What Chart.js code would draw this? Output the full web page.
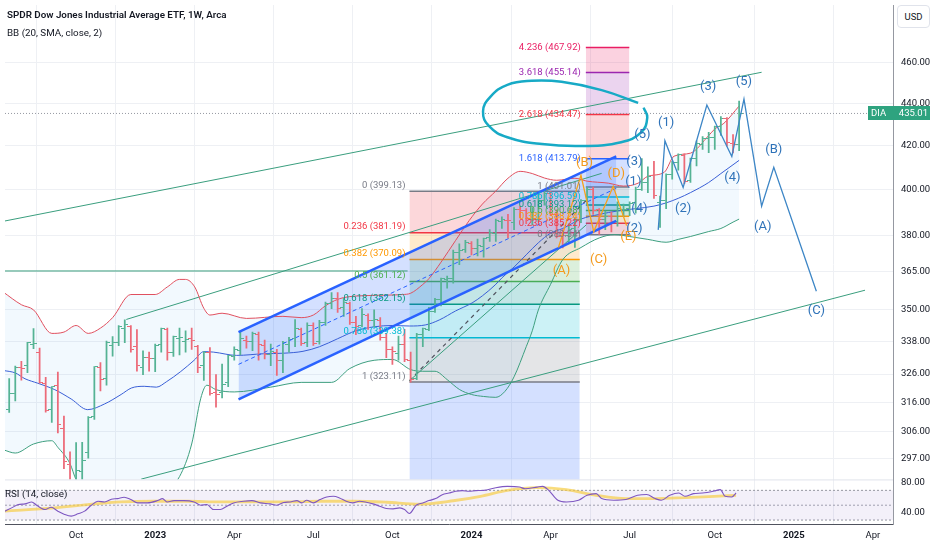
<!DOCTYPE html>
<html>
<head>
<meta charset="utf-8">
<script src="https://cdn.jsdelivr.net/npm/chart.js@4.4.1/dist/chart.umd.min.js"></script>
<style>
  body { margin: 0; background: #fff; }
  #wrap { position: relative; width: 932px; height: 550px; font-family: Roboto, 'Liberation Sans', sans-serif; color: #131722; }
  canvas { position: absolute; left: 0; top: 0; }
  .t { position: absolute; font-size: 9.8px; white-space: nowrap; }
  #usd { position: absolute; left: 897px; top: 5px; width: 31px; height: 21px; border: 1px solid #e0e3eb; border-radius: 4px;
         font-size: 9.5px; line-height: 21px; text-align: center; background: #fff; }
</style>
</head>
<body>
<div id="wrap">
  <canvas id="chart" width="932" height="550"></canvas>
  <div class="t" style="left:7px;top:9px;font-weight:600">SPDR Dow Jones Industrial Average ETF, 1W, Arca</div>
  <div class="t" style="left:7px;top:27px">BB (20, SMA, close, 2)</div>
  <div class="t" style="left:5px;top:488px">RSI (14, close)</div>
  <div id="usd">USD</div>
</div>
<script>
// weekly bars, week 0 = first week of Oct 2022
const firstWeek = -11;
const opens = [313.5, 319.0, 328.2, 329.0, 337.0, 334.0, 322.5, 313.5, 322.0, 307.0,
  295.0, 288.0, 292.5, 299.0, 311.0, 328.5, 324.5, 336.5, 337.5, 343.0,
  343.5, 336.0, 328.5, 332.0, 331.5, 337.0, 342.5, 334.0, 339.0, 338.0,
  339.0, 336.0, 329.0, 334.0, 319.5, 319.5, 323.0, 332.5, 334.5, 338.5,
  338.0, 340.5, 336.5, 333.0, 334.0, 331.0, 337.0, 339.0, 342.5, 337.5,
  344.0, 338.0, 345.0, 352.5, 354.5, 351.0, 352.5, 345.0, 344.0, 348.0,
  346.0, 346.0, 339.5, 335.0, 333.5, 337.0, 331.0, 324.5, 340.5, 342.5,
  349.5, 354.0, 362.0, 362.5, 373.0, 374.0, 376.5, 374.5, 375.5, 379.0,
  381.0, 386.0, 386.5, 385.5, 391.0, 390.5, 387.0, 387.0, 395.0, 398.0,
  389.0, 380.0, 380.0, 383.0, 387.0, 395.0, 400.0, 391.0, 387.0, 388.0,
  386.0, 391.0, 391.5, 394.0, 400.0, 403.0, 406.0, 394.0, 395.0, 406.5,
  412.0, 415.0, 404.0, 414.0, 420.5, 423.0, 423.5, 429.0, 432.5, 421.0,
  420.5];
const highs = [324.4, 328.9, 330.6, 337.6, 342.8, 335.5, 324.8, 321.5, 326.7, 311.2,
  299.1, 302.2, 302.3, 311.0, 328.7, 330.2, 338.1, 339.8, 344.0, 346.2,
  344.0, 342.4, 334.5, 334.0, 337.0, 343.0, 343.0, 340.0, 343.0, 342.0,
  343.0, 336.5, 334.2, 335.7, 325.8, 329.6, 332.8, 336.0, 341.5, 340.0,
  341.5, 341.5, 338.5, 337.0, 335.0, 338.0, 339.5, 346.3, 343.0, 345.0,
  345.0, 346.0, 353.0, 356.8, 356.8, 354.5, 353.0, 347.5, 350.5, 348.5,
  350.0, 347.0, 341.0, 336.0, 340.0, 342.5, 334.0, 341.0, 343.0, 351.0,
  354.5, 362.5, 363.3, 374.0, 376.5, 378.0, 377.5, 378.5, 379.0, 382.5,
  387.0, 388.0, 389.0, 392.0, 392.5, 391.5, 392.0, 398.5, 399.1, 399.0,
  391.0, 382.5, 385.0, 387.5, 395.5, 401.0, 401.0, 391.5, 390.5, 390.0,
  394.5, 393.5, 394.5, 401.0, 413.8, 410.0, 412.5, 397.0, 406.9, 412.5,
  416.0, 416.0, 414.0, 422.0, 424.0, 426.0, 429.0, 433.5, 433.0, 425.0,
  441.0];
const lows = [312.4, 316.4, 323.8, 326.5, 335.3, 322.7, 312.5, 309.0, 305.4, 293.6,
  287.1, 287.2, 286.6, 297.0, 310.0, 320.0, 322.0, 332.5, 336.4, 337.5,
  334.0, 327.0, 325.8, 327.0, 326.9, 334.0, 331.0, 332.4, 333.0, 334.0,
  335.0, 326.5, 323.7, 318.5, 314.3, 317.5, 321.5, 331.0, 333.0, 335.5,
  334.5, 331.0, 331.5, 329.0, 325.5, 326.5, 334.0, 336.0, 336.5, 336.0,
  336.5, 337.0, 344.0, 350.5, 349.0, 347.5, 344.4, 340.5, 343.5, 342.5,
  343.5, 338.5, 332.0, 329.5, 331.0, 330.5, 323.1, 324.0, 336.0, 342.0,
  349.0, 351.5, 358.5, 360.5, 368.0, 373.0, 372.0, 371.5, 371.0, 377.5,
  377.5, 383.0, 379.0, 382.5, 387.5, 385.0, 384.5, 386.0, 393.0, 388.5,
  379.0, 374.8, 377.0, 375.0, 385.5, 393.0, 389.0, 380.5, 382.5, 381.5,
  384.0, 388.0, 388.5, 389.5, 399.5, 398.5, 396.0, 383.5, 391.5, 404.5,
  408.5, 402.5, 403.0, 410.5, 418.0, 416.5, 418.0, 424.5, 419.5, 416.4,
  417.5];
const closes = [318.9, 328.5, 328.0, 337.6, 337.1, 322.8, 313.2, 321.5, 308.2, 295.9,
  287.3, 293.0, 296.3, 310.8, 328.6, 324.0, 337.5, 337.5, 343.5, 344.3,
  334.8, 329.2, 332.0, 331.5, 336.3, 343.0, 333.8, 339.8, 339.3, 338.7,
  338.3, 328.2, 333.9, 319.1, 318.6, 322.4, 332.7, 334.9, 338.9, 338.1,
  341.0, 336.7, 333.0, 334.3, 330.9, 337.6, 338.8, 343.0, 337.3, 344.1,
  337.3, 345.1, 352.3, 354.6, 350.7, 352.8, 345.0, 343.5, 348.4, 345.8,
  346.2, 339.6, 335.1, 334.1, 336.7, 331.3, 324.2, 340.6, 342.8, 349.5,
  353.9, 362.5, 362.5, 373.1, 373.9, 376.9, 374.7, 375.9, 378.6, 381.1,
  386.5, 386.7, 386.3, 391.3, 390.9, 387.2, 387.1, 394.8, 398.1, 389.0,
  379.8, 379.9, 382.4, 386.8, 395.1, 400.0, 390.7, 386.9, 388.0, 385.9,
  391.5, 391.2, 393.8, 400.0, 402.9, 405.9, 397.4, 395.0, 406.6, 411.8,
  415.6, 403.5, 413.9, 420.6, 423.1, 423.5, 428.6, 432.8, 421.1, 420.5,
  435.01];
const lastPrice = 435.01;

const weekTicks = [0, 13, 26, 39, 52, 65, 78, 91, 105, 118, 131];
const weekLabels = ['Oct', '2023', 'Apr', 'Jul', 'Oct', '2024', 'Apr', 'Jul', 'Oct', '2025', 'Apr'];
const priceTicks = [297, 306, 316, 326, 338, 350, 365, 380, 400, 420, 440, 460];
const rsiTicks = [40, 80];
const rsiLevels = [70, 50, 30];

// Bollinger bands [week, price]
const bbUpper = [[-12,357],[-9,352],[-7,350],[-4,341],[-2,341.5],[0,344],[2,341],[4,343],[6,347],[9,356],[13,356],
  [15,359],[17,362],[18,362],[19.5,359],[21,350.6],[22,348],[24,348.7],[28,346.7],[34,347.5],[37,347],[39,348],
  [41,351.6],[42.5,353.6],[44,354.8],[48,355.6],[53.7,356],[55,356.5],[57,360],[58,362.3],[60,369],[62.4,378],
  [64.6,386.3],[66.8,393.5],[69,399.2],[71,404.9],[73,408],[75,407],[77,405],[79,404],[82,404.9],[84,403.6],
  [87.5,402.7],[90,401.4],[92.4,402.7],[94,405.8],[96.7,407.6],[98.3,414.9],[101,416.3],[104,424.5],[105,427.6],
  [106.5,430.3],[109,438.6]];
const bbMiddle = [[-12,327.3],[-10,326.4],[-8.4,324.3],[-6.3,322.7],[-3.5,320.4],[-0.8,317.1],[1.9,313.4],[4.7,315.4],
  [7.4,318.7],[9.1,321],[11.2,321.6],[13.2,321.3],[14.9,323.3],[17.2,326.9],[19.4,331],[21,334.2],[22.6,334],
  [26.4,332.8],[30.8,333.4],[34.1,333.6],[37.3,334.3],[40,336],[43,339],[46,342],[49,343.5],[52,344],[54.8,343.8],
  [57.4,344.2],[59.7,346.1],[62.4,349.6],[65.1,352.7],[66.8,355.5],[68.9,359.8],[70,362.6],[72,367],[74,372],
  [76,377],[78,381],[80,383],[83,387],[86,389],[89,390.5],[92,391.5],[95,392.6],[97,394],[99,396],[101,398.5],
  [104,403],[106,407],[109,413]];
const bbLower = [[-12,299.8],[-10,298.7],[-7,301.7],[-4,302.8],[-3,300.6],[-1,295.2],[0,290],[3,283],[6,279],[9,279],
  [12,282],[15,287],[17,291],[19,301.7],[20.5,317.4],[21.5,322],[23,320.4],[26,319.6],[32,321.3],[37,323],[42,323],
  [45,328],[49,331],[52,331.3],[55,327.6],[57,327],[59,327],[61,324],[63,320.5],[65,318.7],[67,318],[69,317.7],
  [70.5,319.8],[72,325],[74,336],[75,342],[76,350],[78,360],[80,370],[83,375],[86,379],[88.5,380.4],[91,379.6],
  [94,378.4],[97,377.2],[99,378.4],[101,379.6],[104,381.7],[106,383],[108,385.7],[109,387]];

// RSI [week, value]
const rsiValues = [[-11.7,42],[-10.6,46.4],[-9.5,50.9],[-8.4,51.8],[-7.3,54.4],[-6.5,50],[-5.1,44.2],[-4.1,47.3],
  [-3,42],[-1.9,37.6],[-0.8,35.3],[0.3,38.4],[1.4,42],[2.5,50],[3.6,55.3],[4.7,54.4],[5.8,58],[6.8,58.9],[7.9,60.7],
  [9,57.6],[10.1,53.1],[11.7,53.1],[13.4,56.2],[14.2,58.9],[15,54.4],[16.1,56.2],[17.7,56.2],[19.4,54.4],[20.5,50],
  [21.5,50.9],[22.6,44.2],[23.7,44.2],[24.8,48.7],[25.9,53.1],[27.5,55.3],[28.9,56.2],[30.3,53.1],[31.9,51.8],
  [33,50],[34.1,53.6],[35.2,54.4],[36.3,56.2],[37.1,53.1],[37.9,56.7],[39,53.1],[40.1,57.6],[41.2,61.1],[42.3,62],
  [43.3,59.8],[44.4,55.3],[45.5,53.1],[46.6,55.3],[47.7,54],[48.8,51.8],[49.9,48.7],[51,45.6],[52.1,45.1],
  [53.2,46.4],[54,44.2],[54.8,38.9],[55.9,50],[57,53.1],[58,56.2],[59.1,58.9],[60.2,64.2],[61.3,66.4],[62.4,68.7],
  [63.5,69.6],[64.6,68.7],[65.7,69.6],[67,70],[69,73.6],[70.9,75.3],[72.9,74.4],[73.8,72.2],[75.8,74.4],[76.7,75.3],
  [77.7,70],[79.2,56.7],[80.6,54.4],[82.6,56.7],[84,63.3],[85.5,65.6],[86.4,58.9],[88.4,56.7],[90.4,57.6],
  [92.3,63.3],[93.8,64.4],[95.2,58.9],[96.2,56.7],[97.6,63.3],[99.1,66.4],[100.1,62],[101.5,65.6],[103,66.4],
  [104.9,69.1],[105.9,71],[106.7,62],[107.8,61.1],[108.5,66.4]];
const rsiMa = [[-11.7,42],[-3.6,46.4],[1.9,50.9],[7.4,54.4],[12.9,55.3],[18.3,55.3],[23.7,54.4],[29.2,54.4],
  [34.6,54.4],[40.1,55.3],[45.5,55.3],[51,54],[56.4,51.5],[62,56],[66.5,62],[70.9,70],[75.8,73.6],[80.6,70.9],
  [85.5,63.3],[90.4,58.9],[95.2,58.9],[100.1,60.2],[104.9,62],[108.5,63.3]];

// fibonacci drawings [level, price]
const fibA = [[0,399.13],[0.236,381.19],[0.382,370.09],[0.5,361.12],[0.618,352.15],[0.786,339.38],[1,323.11],[1.618,276.13]];
const fibB = [[0,380.34],[0.236,385.22],[0.382,388.24],[0.5,390.68],[0.618,393.12],[0.786,396.59],[1,401.01],
  [1.618,413.79],[2.618,434.47],[3.618,455.14],[4.236,467.92]];
const fibColors = {0:'#787b86', 0.236:'#f23645', 0.382:'#ff9800', 0.5:'#4caf50', 0.618:'#089981', 0.786:'#00bcd4',
  1:'#787b86', 1.618:'#2962ff', 2.618:'#f23645', 3.618:'#9c27b0', 4.236:'#e91e63'};
const fibASpan = [54.8, 82.8];
const fibBSpan = [83.8, 90.95];

// drawings [week, price]
const greenUpper = [[-11.69,386.2],[112.7,455.3]];
const greenMid = [[8.25,346.3],[86.4,407.1]];
const greenLower = [[10.7,290.2],[129.7,357.7]];
const greenFlat = [[-11.69,365.4],[54.5,365.4]];
const greenFib = [[54.8,323.6],[83.9,384.6]];
const fibTrend = [[54.8,323.6],[83.9,395.2]];
const chanUpper = [[26.7,341.5],[88.8,414.8]];
const chanMiddle = [[26.7,329.5],[88.8,400.4]];
const chanLower = [[26.7,317.0],[88.8,386.2]];
const waveBlue = [[95.7,382.4],[96.8,422.1],[99.8,400.8],[103.7,439.1],[107.8,414.8],[109.8,442.0],[112.7,392.6],[114.7,409.8],[121.7,357.3]];
const waveOrange = [[79.3,375.0],[83.0,406.2],[85.1,381.7],[88.3,401.3],[90.5,384.2]];
const circleMark = [[92.4,440.1],[86.4,446.4],[79.8,450.5],[74.9,451.0],[70.9,449.0],[68.1,443.1],[66.9,436.0],[67.9,428.9],
  [70.9,423.7],[76.6,420.5],[83.1,419.6],[89.6,421.4],[92.9,426.0],[93.9,433.0],[93.3,437.8]];
const blueLabels = [[93.1,424.9,'(5)'],[91.8,412.5,'(3)'],[91.6,403.3,'(1)'],[92.6,391.4,'(4)'],[91.8,383.0,'(2)'],
  [97.0,430.5,'(1)'],[99.8,391.4,'(2)'],[103.9,448.3,'(3)'],[107.9,404.9,'(4)'],[109.8,450.3,'(5)'],
  [114.7,417.9,'(B)'],[112.9,383.7,'(A)'],[121.7,349.5,'(C)']];
const orangeLabels = [[83.6,412.1,'(B)'],[88.8,407.1,'(D)'],[85.9,369.9,'(C)'],[90.8,379.3,'(E)'],[79.8,365.4,'(A)']];

const W_MIN = -11.69, W_MAX = 134.3;
const P_MIN = 290.1, P_MAX = 490.5;
const R_MIN = 24.7, R_MAX = 84.7;
const UP = '#55b394', DOWN = '#ec6a78';
const FONT = 'Roboto, "Liberation Sans", sans-serif';

Chart.defaults.font.family = FONT;
Chart.defaults.font.size = 9.5;
Chart.defaults.color = '#131722';

const P = a => a.map(([x, y]) => ({x, y}));
function rgba(hex, a) {
  const n = parseInt(hex.slice(1), 16);
  return `rgba(${n >> 16},${(n >> 8) & 255},${n & 255},${a})`;
}
function mainLine(data, color, width, order, extra) {
  return Object.assign({type: 'line', data: P(data), borderColor: color, borderWidth: width, pointRadius: 0,
    fill: false, tension: 0, yAxisID: 'y', clip: 0, order}, extra || {});
}
function rsiLine(data, color, width, order, extra) {
  return Object.assign({type: 'line', data: P(data), borderColor: color, borderWidth: width, pointRadius: 0,
    fill: false, tension: 0, yAxisID: 'yRsi', clip: 0, order}, extra || {});
}
function tickImg(color, left) {
  const c = document.createElement('canvas');
  c.width = 7; c.height = 1;
  const g = c.getContext('2d');
  g.fillStyle = color;
  g.fillRect(left ? 0 : 4, 0, 3, 1);
  return c;
}
const openUp = tickImg(UP, true), openDn = tickImg(DOWN, true);
const closeUp = tickImg(UP, false), closeDn = tickImg(DOWN, false);

const ds = [];
const add = d => { ds.push(d); return ds.length - 1; };

function addFib(levels, span) {
  levels.forEach(([lv, price], i) => {
    const next = levels[i + 1];
    add(mainLine([[span[0], price], [span[1], price]], fibColors[lv], 1.5, 100,
      next ? {fill: '+1', backgroundColor: rgba(fibColors[next[0]], 0.2)} : {}));
  });
}
addFib(fibA, fibASpan);
addFib(fibB, fibBSpan);

const mono = {cubicInterpolationMode: 'monotone'};
const iBBLow = add(mainLine(bbLower, '#3e9f7f', 1, 40, mono));
add(mainLine(bbUpper, 'rgba(0,0,0,0)', 0, 95, {cubicInterpolationMode: 'monotone', fill: {target: iBBLow}, backgroundColor: 'rgba(33,150,243,0.06)'}));
add(mainLine(bbUpper, '#e0505f', 1, 40, mono));
add(mainLine(bbMiddle, '#3a5fd6', 1, 40, mono));

const iChLow = add(mainLine(chanLower, '#2962ff', 2.5, 15));
add(mainLine(chanUpper, 'rgba(0,0,0,0)', 0, 85, {fill: {target: iChLow}, backgroundColor: 'rgba(41,98,255,0.2)'}));
add(mainLine(chanUpper, '#2962ff', 2.5, 15));
add(mainLine(chanMiddle, '#2962ff', 1, 15, {borderDash: [4, 3]}));

[greenUpper, greenMid, greenLower, greenFlat, greenFib].forEach(g => add(mainLine(g, '#3a9e7e', 1, 50)));
add(mainLine(fibTrend, '#50535e', 1.2, 50, {borderDash: [4, 4]}));
add(mainLine([[W_MIN, lastPrice], [W_MAX, lastPrice]], '#9598a1', 1, 60, {borderDash: [1, 2]}));

const barColors = closes.map((c, i) => c >= opens[i] ? UP : DOWN);
add({type: 'bar', data: lows.map((l, i) => ({x: firstWeek + i, y: [l, highs[i]]})), backgroundColor: barColors,
  barThickness: 1.1, grouped: false, yAxisID: 'y', clip: 0, order: 30});
add({type: 'line', showLine: false, data: opens.map((o, i) => ({x: firstWeek + i, y: o})), pointRadius: 3,
  pointStyle: closes.map((c, i) => c >= opens[i] ? openUp : openDn), yAxisID: 'y', clip: 0, order: 30});
add({type: 'line', showLine: false, data: closes.map((c, i) => ({x: firstWeek + i, y: c})), pointRadius: 3,
  pointStyle: closes.map((c, i) => c >= opens[i] ? closeUp : closeDn), yAxisID: 'y', clip: 0, order: 30});

add(mainLine(waveBlue, '#3d86c6', 1.3, 10));
add(mainLine(waveOrange, '#f7a21b', 1.3, 10));
add(mainLine(circleMark, '#17aac6', 2.5, 10, {tension: 0.45}));

// RSI pane
const iR30 = ds.length + 2;
add(rsiLine([[W_MIN, rsiLevels[0]], [W_MAX, rsiLevels[0]]], '#9598a1', 1, 8, {borderDash: [2, 2], fill: {target: iR30}, backgroundColor: 'rgba(126,87,194,0.09)'}));
add(rsiLine([[W_MIN, rsiLevels[1]], [W_MAX, rsiLevels[1]]], '#a3a6af', 1, 8, {borderDash: [2, 2]}));
add(rsiLine([[W_MIN, rsiLevels[2]], [W_MAX, rsiLevels[2]]], '#9598a1', 1, 8, {borderDash: [2, 2]}));
add(rsiLine(rsiMa, 'rgba(246,205,70,0.7)', 2.8, 6, mono));
add(rsiLine(rsiValues, '#7e57c2', 1.1, 5, mono));

const overlay = {
  id: 'overlay',
  afterDatasetsDraw(chart) {
    const {ctx, chartArea} = chart;
    const x = chart.scales.x, y = chart.scales.y;
    ctx.save();
    ctx.beginPath();
    ctx.rect(chartArea.left, chartArea.top, chartArea.right - chartArea.left, y.bottom - chartArea.top);
    ctx.clip();
    ctx.font = '9.5px ' + FONT;
    ctx.textAlign = 'right';
    ctx.textBaseline = 'bottom';
    fibA.forEach(([lv, p]) => {
      ctx.fillStyle = fibColors[lv];
      ctx.fillText(`${lv} (${p.toFixed(2)})`, x.getPixelForValue(fibASpan[0]) - 4, y.getPixelForValue(p) - 1);
    });
    ctx.textBaseline = 'middle';
    fibB.forEach(([lv, p]) => {
      ctx.fillStyle = fibColors[lv];
      ctx.fillText(`${lv} (${p.toFixed(2)})`, x.getPixelForValue(fibBSpan[0]) - 5, y.getPixelForValue(p));
    });
    ctx.font = '13px ' + FONT;
    ctx.textAlign = 'center';
    ctx.fillStyle = '#2f73b9';
    blueLabels.forEach(([w, p, t]) => ctx.fillText(t, x.getPixelForValue(w), y.getPixelForValue(p)));
    ctx.fillStyle = '#f49a1c';
    orangeLabels.forEach(([w, p, t]) => ctx.fillText(t, x.getPixelForValue(w), y.getPixelForValue(p)));
    ctx.restore();
  },
  afterDraw(chart) {
    const {ctx, chartArea} = chart;
    const y = chart.scales.y;
    ctx.save();
    ctx.strokeStyle = '#e0e3eb';
    ctx.beginPath();
    ctx.moveTo(chartArea.left, y.bottom + 0.5);
    ctx.lineTo(chartArea.right, y.bottom + 0.5);
    ctx.stroke();
    const py = Math.round(y.getPixelForValue(lastPrice));
    ctx.fillStyle = '#2ea37f';
    ctx.fillRect(chartArea.right - 25, py - 7, chart.width - chartArea.right + 23, 14);
    ctx.fillStyle = '#fff';
    ctx.font = '9.5px ' + FONT;
    ctx.textBaseline = 'middle';
    ctx.textAlign = 'left';
    ctx.fillText('DIA', chartArea.right - 22, py + 0.5);
    ctx.textAlign = 'right';
    ctx.fillText(lastPrice.toFixed(2), chart.width - 4, py + 0.5);
    ctx.restore();
  }
};

new Chart(document.getElementById('chart'), {
  type: 'line',
  data: {datasets: ds},
  plugins: [overlay],
  options: {
    responsive: false,
    animation: false,
    events: [],
    layout: {padding: 0},
    plugins: {legend: {display: false}, tooltip: {enabled: false}},
    scales: {
      x: {
        type: 'linear', min: W_MIN, max: W_MAX, offset: false, position: 'bottom',
        grid: {color: '#eef0f4', drawTicks: false},
        border: {color: '#50535e'},
        ticks: {
          autoSkip: false, maxRotation: 0, padding: 6, color: '#131722',
          font: c => ({family: FONT, size: 9.5, weight: /^\d{4}$/.test(weekLabels[c.index]) ? 'bold' : 'normal'}),
          callback: (v, i) => weekLabels[i]
        },
        afterBuildTicks: s => { s.ticks = weekTicks.map(v => ({value: v})); },
        afterFit: s => { s.height = 26; s.paddingLeft = 0; s.paddingRight = 0; }
      },
      y: {
        type: 'logarithmic', axis: 'y', position: 'right', stack: 'pane', stackWeight: 479, min: P_MIN, max: P_MAX,
        grid: {color: '#eef0f4', drawTicks: false},
        border: {color: '#9598a1'},
        ticks: {padding: 8, color: '#131722', callback: v => Number(v).toFixed(2)},
        afterBuildTicks: s => { s.ticks = priceTicks.map(v => ({value: v})); },
        afterFit: s => { s.width = 39; s.paddingTop = 0; s.paddingBottom = 0; }
      },
      yRsi: {
        type: 'linear', axis: 'y', position: 'right', stack: 'pane', stackWeight: 45, min: R_MIN, max: R_MAX,
        grid: {display: false, drawTicks: false},
        border: {color: '#9598a1'},
        ticks: {padding: 8, color: '#131722', callback: v => Number(v).toFixed(2)},
        afterBuildTicks: s => { s.ticks = rsiTicks.map(v => ({value: v})); },
        afterFit: s => { s.width = 39; s.paddingTop = 0; s.paddingBottom = 0; }
      }
    }
  }
});
</script>
</body>
</html>
